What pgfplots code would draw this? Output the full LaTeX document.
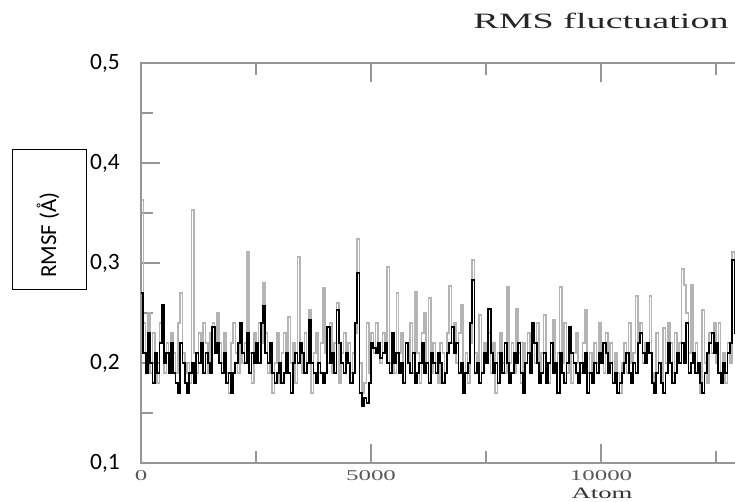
\documentclass[border=0pt]{standalone}
\usepackage{pgfplots}
\pgfplotsset{compat=1.18}
\usepackage{pgfplotstable}
\usepackage{fontspec}
\setmainfont{Liberation Serif}
\newfontfamily\calibri{Carlito}

\pgfplotstableread{
x b g
0 0.27 0.363
50 0.21 0.24
100 0.19 0.21
150 0.23 0.25
200 0.20 0.19
250 0.18 0.23
300 0.21 0.21
350 0.19 0.18
400 0.22 0.24
450 0.258 0.25
500 0.20 0.19
550 0.21 0.22
600 0.19 0.20
650 0.22 0.23
700 0.19 0.21
750 0.18 0.19
800 0.17 0.24
850 0.22 0.27
900 0.20 0.21
950 0.18 0.19
1000 0.17 0.20
1050 0.19 0.18
1100 0.20 0.353
1150 0.18 0.21
1200 0.21 0.19
1250 0.20 0.23
1300 0.22 0.20
1350 0.19 0.24
1400 0.21 0.22
1450 0.20 0.19
1500 0.19 0.23
1550 0.236 0.24
1600 0.21 0.21
1650 0.22 0.25
1700 0.20 0.22
1750 0.19 0.20
1800 0.21 0.23
1850 0.18 0.19
1900 0.19 0.17
1950 0.17 0.22
2000 0.19 0.24
2050 0.20 0.21
2100 0.22 0.19
2150 0.24 0.23
2200 0.21 0.20
2250 0.20 0.22
2300 0.23 0.311
2350 0.19 0.21
2400 0.21 0.18
2450 0.20 0.23
2500 0.22 0.20
2550 0.20 0.24
2600 0.24 0.22
2650 0.257 0.28
2700 0.21 0.23
2750 0.20 0.19
2800 0.22 0.21
2850 0.19 0.17
2900 0.18 0.20
2950 0.19 0.23
3000 0.20 0.18
3050 0.18 0.21
3100 0.19 0.23
3150 0.21 0.19
3200 0.19 0.246
3250 0.17 0.20
3300 0.20 0.22
3350 0.21 0.18
3400 0.20 0.306
3450 0.22 0.21
3500 0.21 0.19
3550 0.19 0.23
3600 0.20 0.20
3650 0.243 0.253
3700 0.20 0.17
3750 0.19 0.21
3800 0.18 0.23
3850 0.20 0.19
3900 0.19 0.22
3950 0.18 0.275
4000 0.19 0.21
4050 0.236 0.20
4100 0.20 0.24
4150 0.21 0.19
4200 0.19 0.22
4250 0.253 0.26
4300 0.22 0.18
4350 0.20 0.21
4400 0.19 0.23
4450 0.21 0.20
4500 0.20 0.22
4550 0.18 0.19
4600 0.19 0.21
4650 0.24 0.23
4700 0.29 0.324
4750 0.17 0.20
4800 0.157 0.17
4850 0.165 0.18
4900 0.16 0.24
4950 0.18 0.19
5000 0.22 0.23
5050 0.215 0.21
5100 0.21 0.24
5150 0.22 0.22
5200 0.205 0.20
5250 0.21 0.23
5300 0.22 0.21
5350 0.20 0.296
5400 0.19 0.20
5450 0.23 0.22
5500 0.20 0.19
5550 0.21 0.27
5600 0.19 0.21
5650 0.20 0.23
5700 0.18 0.18
5750 0.22 0.22
5800 0.20 0.20
5850 0.19 0.24
5900 0.21 0.19
5950 0.18 0.271
6000 0.19 0.21
6050 0.20 0.18
6100 0.22 0.23
6150 0.19 0.25
6200 0.20 0.20
6250 0.18 0.265
6300 0.21 0.19
6350 0.20 0.22
6400 0.19 0.20
6450 0.21 0.18
6500 0.20 0.22
6550 0.18 0.21
6600 0.19 0.19
6650 0.21 0.23
6700 0.22 0.277
6750 0.236 0.22
6800 0.21 0.24
6850 0.22 0.20
6900 0.19 0.23
6950 0.20 0.258
7000 0.17 0.19
7050 0.19 0.21
7100 0.20 0.18
7150 0.24 0.22
7200 0.283 0.303
7250 0.19 0.21
7300 0.20 0.20
7350 0.18 0.248
7400 0.19 0.19
7450 0.21 0.22
7500 0.20 0.21
7550 0.254 0.23
7600 0.21 0.19
7650 0.19 0.22
7700 0.20 0.17
7750 0.18 0.21
7800 0.21 0.23
7850 0.19 0.20
7900 0.22 0.19
7950 0.20 0.276
8000 0.18 0.20
8050 0.19 0.22
8100 0.21 0.19
8150 0.20 0.254
8200 0.22 0.21
8250 0.19 0.18
8300 0.17 0.22
8350 0.20 0.20
8400 0.21 0.23
8450 0.19 0.19
8500 0.24 0.22
8550 0.22 0.20
8600 0.20 0.24
8650 0.18 0.19
8700 0.19 0.21
8750 0.21 0.248
8800 0.18 0.20
8850 0.20 0.18
8900 0.22 0.22
8950 0.19 0.243
9000 0.20 0.19
9050 0.17 0.21
9100 0.21 0.276
9150 0.19 0.20
9200 0.18 0.24
9250 0.20 0.19
9300 0.236 0.22
9350 0.21 0.18
9400 0.20 0.21
9450 0.19 0.23
9500 0.18 0.20
9550 0.20 0.19
9600 0.19 0.22
9650 0.21 0.253
9700 0.17 0.19
9750 0.19 0.21
9800 0.18 0.18
9850 0.20 0.22
9900 0.19 0.20
9950 0.21 0.24
10000 0.20 0.21
10050 0.22 0.19
10100 0.21 0.23
10150 0.19 0.20
10200 0.20 0.22
10250 0.18 0.18
10300 0.19 0.21
10350 0.17 0.19
10400 0.18 0.17
10450 0.19 0.20
10500 0.20 0.22
10550 0.21 0.19
10600 0.19 0.24
10650 0.18 0.20
10700 0.20 0.21
10750 0.19 0.267
10800 0.22 0.22
10850 0.23 0.24
10900 0.21 0.20
10950 0.20 0.22
11000 0.22 0.21
11050 0.21 0.267
11100 0.18 0.19
11150 0.17 0.17
11200 0.19 0.23
11250 0.20 0.20
11300 0.18 0.18
11350 0.17 0.235
11400 0.19 0.20
11450 0.22 0.24
11500 0.20 0.22
11550 0.18 0.19
11600 0.19 0.23
11650 0.21 0.20
11700 0.20 0.22
11750 0.22 0.294
11800 0.20 0.278
11850 0.24 0.25
11900 0.19 0.21
11950 0.20 0.278
12000 0.21 0.20
12050 0.19 0.22
12100 0.20 0.19
12150 0.18 0.17
12200 0.17 0.253
12250 0.19 0.20
12300 0.21 0.18
12350 0.22 0.23
12400 0.23 0.21
12450 0.21 0.24
12500 0.22 0.20
12550 0.19 0.24
12600 0.18 0.19
12650 0.20 0.21
12700 0.19 0.18
12750 0.21 0.22
12800 0.22 0.20
12850 0.303 0.311
12900 0.23 0.23
12950 0.24 0.324
13000 0.235 0.25
13050 0.23 0.24
}\rmsf

\definecolor{axgray}{RGB}{150,150,150}
\definecolor{sergray}{RGB}{180,180,180}

\begin{document}
\begin{tikzpicture}
\useasboundingbox (0,0) rectangle (735bp,502bp);
\begin{axis}[
  at={(141bp,39bp)}, anchor=south west,
  scale only axis, width=600bp, height=400bp,
  xmin=0, xmax=13043, ymin=0.1, ymax=0.5,
  scaled x ticks=false, scaled y ticks=false,
  axis line style={axgray, line width=1.6bp},
  tick style={axgray, line width=1.3bp},
  major tick length=19bp, minor tick length=12bp,
  xtick pos=both, ytick pos=left,
  xtick={0,5000,10000}, minor xtick={2500,7500,12500},
  xticklabels={{\scalebox{1.67}[1]{0}},{\scalebox{1.67}[1]{5000}},{\scalebox{1.67}[1]{10000}}},
  xticklabel pos=bottom,
  xticklabel style={font=\fontsize{15}{15}\selectfont, text=black!65, anchor=north, yshift=-4bp},
  ytick={0.1,0.2,0.3,0.4,0.5}, minor ytick={0.15,0.25,0.35,0.45},
  yticklabels={{0,1},{0,2},{0,3},{0,4},{0,5}},
  yticklabel style={font=\calibri\fontsize{23.5}{24}\selectfont, inner sep=0pt, anchor=east, xshift=-21bp},
]
\addplot[sergray, line width=1.6bp, const plot] table[x=x, y=g] {\rmsf};
\addplot[black, line width=1.8bp, const plot] table[x=x, y=b] {\rmsf};
\end{axis}
\node[font=\fontsize{22}{22}\selectfont, text=black!85, anchor=base] at (601bp,473bp) {\scalebox{1.74}[1]{RMS fluctuation}};
\node[font=\fontsize{16}{16}\selectfont, text=black!80, anchor=base] at (602bp,4bp) {\scalebox{1.68}[1]{Atom}};
\draw[line width=1bp] (12bp,212bp) rectangle (86bp,352bp);
\node[font=\calibri\fontsize{23}{23}\selectfont, rotate=90] at (48bp,267bp) {RMSF (Å)};
\end{tikzpicture}
\end{document}
